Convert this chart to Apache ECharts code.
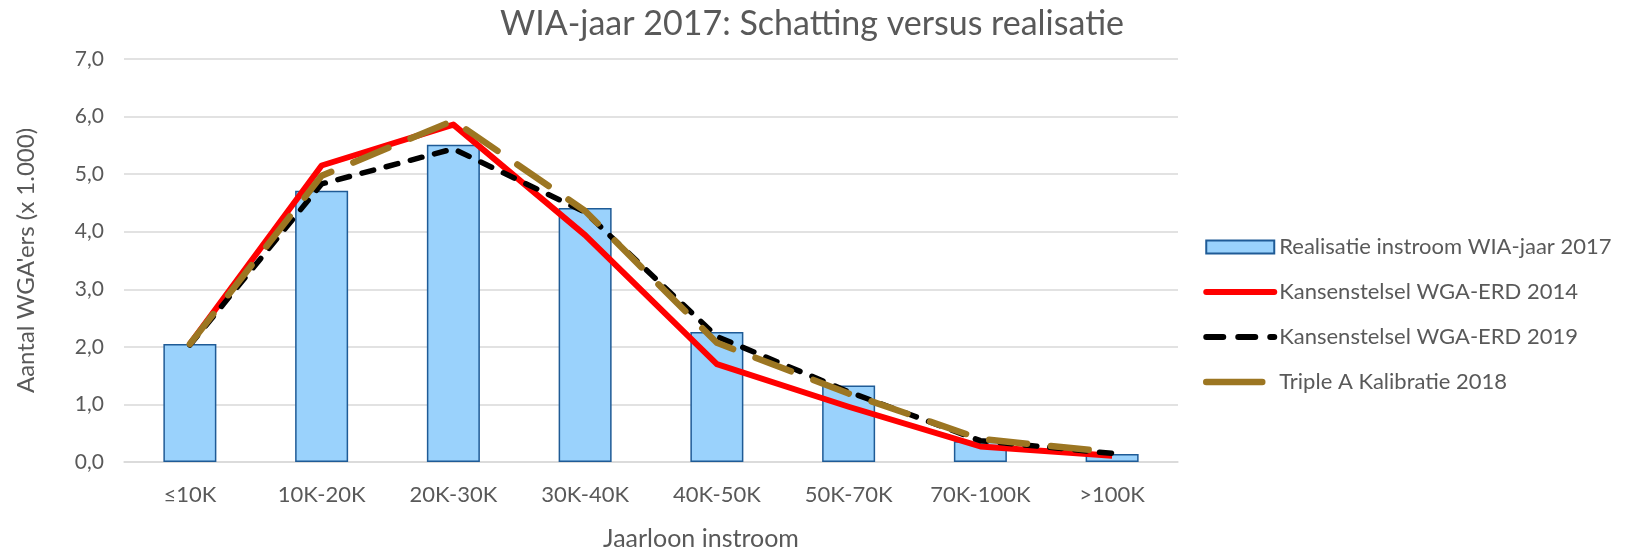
<!DOCTYPE html>
<html>
<head>
<meta charset="utf-8">
<script src="https://cdn.jsdelivr.net/npm/echarts@6/dist/echarts.min.js"></script>
<style>
  html, body { margin: 0; padding: 0; background: #fff; }
  #chart { width: 1626px; height: 551px; }
</style>
</head>
<body>
<div id="chart"></div>
<script>
// categorieën op de x-as
const categories = ['≤10K', '10K-20K', '20K-30K', '30K-40K', '40K-50K', '50K-70K', '70K-100K', '>100K']
// realisatie (staven)
const realisatie = [2.05, 4.71, 5.51, 4.41, 2.26, 1.33, 0.36, 0.14]
// schattingen (lijnen)
const kansen2014 = [2.05, 5.15, 5.86, 3.94, 1.70, 0.96, 0.27, 0.11]
const kansen2019 = [2.03, 4.83, 5.44, 4.34, 2.18, 1.22, 0.37, 0.15]
const tripleA2018 = [2.05, 4.97, 5.93, 4.36, 2.07, 1.19, 0.40, 0.17]
// y-as
const yMin = 0
const yMax = 7
const yStep = 1

const seriesNames = [
  'Realisatie instroom WIA-jaar 2017',
  'Kansenstelsel WGA-ERD 2014',
  'Kansenstelsel WGA-ERD 2019',
  'Triple A Kalibratie 2018'
]

const font = 'Lato, "Open Sans", sans-serif'
const grey = '#595959'
const red = '#ff0000'
const black = '#000000'
const brown = '#9c7622'

// legenda: alleen de lijn tonen, geen symbool
const hideSymbol = { color: 'rgba(0,0,0,0)', borderWidth: 0, opacity: 0 }

const chart = echarts.init(document.getElementById('chart'))

const option = {
  animation: false,
  backgroundColor: '#fff',
  title: {
    text: 'WIA-jaar 2017: Schatting versus realisatie',
    left: 807,
    textAlign: 'center',
    top: 2,
    textStyle: { fontFamily: font, fontSize: 34, fontWeight: 'normal', color: grey }
  },
  grid: {
    left: 124,
    right: 448,
    top: 59,
    bottom: 89,
    // plotgebied niet laten krimpen door labels/namen
    outerBoundsMode: 'none'
  },
  legend: {
    orient: 'vertical',
    left: 1198,
    top: 231,
    itemWidth: 68,
    itemHeight: 13,
    itemGap: 23,
    textStyle: { fontFamily: font, fontSize: 22, color: grey },
    data: [
      { name: seriesNames[0], icon: 'rect' },
      {
        name: seriesNames[1],
        itemStyle: hideSymbol,
        lineStyle: { color: red, width: 6, cap: 'round' }
      },
      {
        name: seriesNames[2],
        itemStyle: hideSymbol,
        lineStyle: { color: black, width: 6, type: [17, 15], cap: 'round' }
      },
      {
        name: seriesNames[3],
        itemStyle: hideSymbol,
        lineStyle: { color: brown, width: 6.5, type: [56, 40], cap: 'round' }
      }
    ]
  },
  xAxis: {
    type: 'category',
    data: categories,
    name: 'Jaarloon instroom',
    nameLocation: 'middle',
    nameGap: 64,
    nameTextStyle: { fontFamily: font, fontSize: 25, color: grey, padding: [0, 0, 0, 100] },
    axisLine: { lineStyle: { color: '#d9d9d9', width: 1.5 } },
    axisTick: { show: false },
    axisLabel: { fontFamily: font, fontSize: 22, color: grey, margin: 22 }
  },
  yAxis: {
    type: 'value',
    min: yMin,
    max: yMax,
    interval: yStep,
    name: "Aantal WGA'ers (x 1.000)",
    nameLocation: 'middle',
    nameGap: 86,
    nameTextStyle: { fontFamily: font, fontSize: 24, color: grey },
    axisLine: { show: false },
    axisTick: { show: false },
    splitLine: { lineStyle: { color: '#d9d9d9', width: 1.5 } },
    axisLabel: {
      fontFamily: font,
      fontSize: 21,
      color: grey,
      margin: 20,
      formatter: v => v.toFixed(1).replace('.', ',')
    }
  },
  series: [
    {
      name: seriesNames[0],
      type: 'bar',
      data: realisatie,
      barWidth: 53,
      itemStyle: { color: '#9ad2fc', borderColor: '#1f5b96', borderWidth: 1.5 }
    },
    {
      name: seriesNames[1],
      type: 'line',
      data: kansen2014,
      symbol: 'none',
      itemStyle: { color: red },
      lineStyle: { color: red, width: 6, join: 'round' }
    },
    {
      name: seriesNames[2],
      type: 'line',
      data: kansen2019,
      symbol: 'none',
      itemStyle: { color: black },
      lineStyle: { color: black, width: 5.5, type: [12, 13], cap: 'round', join: 'round' }
    },
    {
      name: seriesNames[3],
      type: 'line',
      data: tripleA2018,
      symbol: 'none',
      itemStyle: { color: brown },
      lineStyle: { color: brown, width: 6.5, type: [38, 24], cap: 'round', join: 'round' }
    }
  ]
}

chart.setOption(option)
</script>
</body>
</html>
